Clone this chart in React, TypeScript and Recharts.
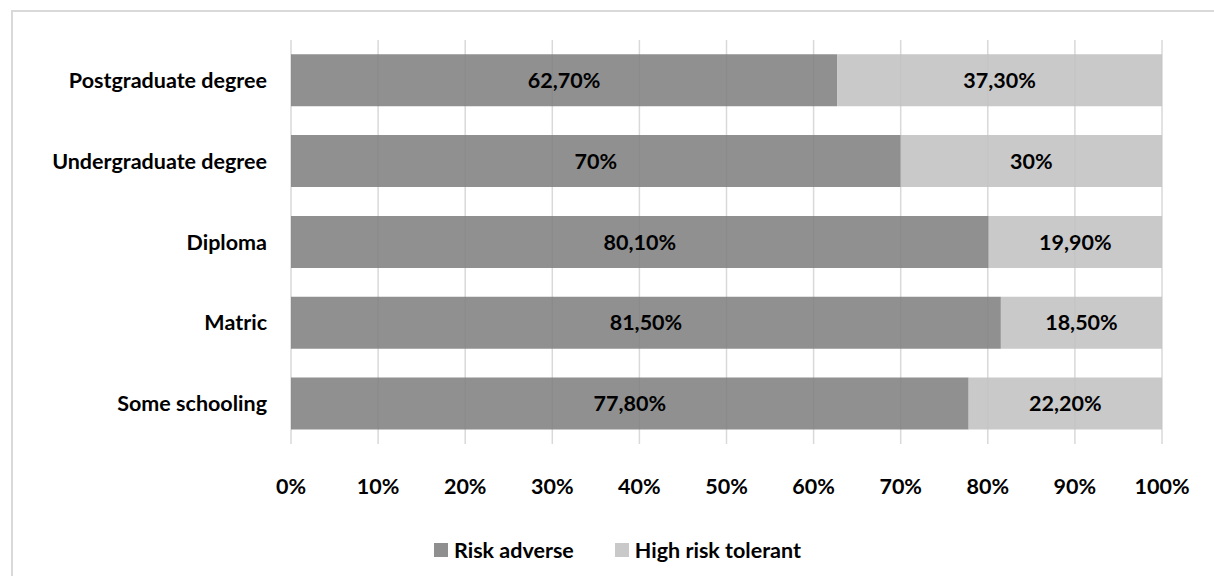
import React from "react";
import { BarChart, Bar, XAxis, YAxis, CartesianGrid, LabelList, Legend } from "recharts";

const categories = ["Postgraduate degree", "Undergraduate degree", "Diploma", "Matric", "Some schooling"];
const riskAdverse = [62.7, 70, 80.1, 81.5, 77.8];
const highRiskTolerant = [37.3, 30, 19.9, 18.5, 22.2];
const xTicks = [0, 10, 20, 30, 40, 50, 60, 70, 80, 90, 100];

const data = categories.map((name, i) => ({
  name,
  adverse: riskAdverse[i],
  tolerant: highRiskTolerant[i],
}));

const FONT = "Lato, 'Open Sans', sans-serif";
const FS = 21.5;

const fmt = (v: any) => {
  const n = Number(v);
  if (Number.isInteger(n)) return `${n}%`;
  return `${n.toFixed(2).replace(".", ",")}%`;
};

function LegendBox() {
  const items = [
    { label: "Risk adverse", color: "#8f8f8f" },
    { label: "High risk tolerant", color: "#c9c9c9" },
  ];
  return (
    <div style={{ display: "flex", alignItems: "center", fontFamily: FONT, fontWeight: 700, fontSize: FS, color: "#000", lineHeight: "24px" }}>
      {items.map((it, i) => (
        <div key={it.label} style={{ display: "flex", alignItems: "center", marginLeft: i ? 41 : 0 }}>
          <span style={{ width: 14, height: 14, background: it.color, display: "inline-block", marginRight: 6 }} />
          <span>{it.label}</span>
        </div>
      ))}
    </div>
  );
}

export default function App() {
  return (
    <div style={{ position: "relative", width: 1214, height: 576, overflow: "hidden", background: "#fff" }}>
      <style>{`body{margin:0}`}</style>
      <div style={{ position: "absolute", left: 11, top: 10, width: 1400, height: 800, border: "2px solid #d9d9d9", boxSizing: "border-box" }} />
      <div style={{ position: "absolute", left: 0, top: 0 }}>
        <BarChart
          width={1214}
          height={576}
          data={data}
          layout="vertical"
          barCategoryGap="17.7%"
          margin={{ top: 40, right: 52, bottom: 48, left: 0 }}
        >
          <CartesianGrid horizontal={false} stroke="#d9d9d9" strokeWidth={1.5} />
          <XAxis
            type="number"
            domain={[0, 100]}
            ticks={xTicks}
            tickFormatter={(v) => `${v}%`}
            axisLine={false}
            tickLine={false}
            tickSize={0}
            tickMargin={35}
            height={60}
            tick={{ fill: "#000", fontSize: FS, fontWeight: 700, fontFamily: FONT }}
          />
          <YAxis
            type="category"
            dataKey="name"
            width={291}
            axisLine={false}
            tickLine={false}
            tickSize={0}
            tickMargin={24}
            tick={{ fill: "#000", fontSize: FS, fontWeight: 700, fontFamily: FONT }}
          />
          <Legend
            content={<LegendBox />}
            wrapperStyle={{ position: "absolute", left: 434, top: 538, width: "auto" }}
          />
          <Bar dataKey="adverse" name="Risk adverse" stackId="a" fill="#808080" fillOpacity={0.875} isAnimationActive={false}>
            <LabelList dataKey="adverse" position="center" formatter={fmt} fill="#000" fontSize={FS} fontWeight={700} fontFamily={FONT} />
          </Bar>
          <Bar dataKey="tolerant" name="High risk tolerant" stackId="a" fill="#c1c1c1" fillOpacity={0.875} isAnimationActive={false}>
            <LabelList dataKey="tolerant" position="center" formatter={fmt} fill="#000" fontSize={FS} fontWeight={700} fontFamily={FONT} />
          </Bar>
        </BarChart>
      </div>
    </div>
  );
}
